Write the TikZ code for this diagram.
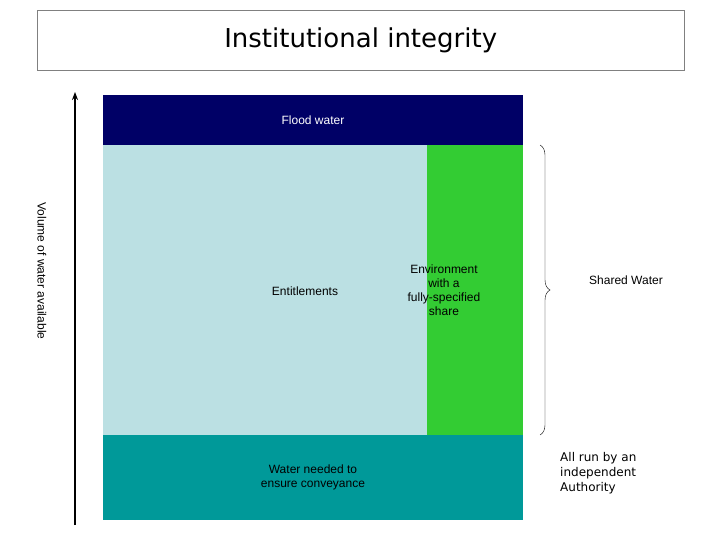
\documentclass[tikz,border=0pt]{standalone}
\usepackage{fontspec}
\setmainfont{Liberation Sans}
\newfontfamily\comic{DejaVu Sans}
\usetikzlibrary{decorations.pathreplacing,arrows.meta}
\definecolor{navy}{RGB}{0,0,102}
\definecolor{lblue}{RGB}{187,224,227}
\definecolor{grn}{RGB}{51,204,51}
\definecolor{teal2}{RGB}{0,153,153}
\tikzset{lbl/.style={font=\fontsize{12}{14}\selectfont, align=center, inner sep=0pt}}
\begin{document}
\begin{tikzpicture}[x=1pt,y=-1pt]
\useasboundingbox (0,0) rectangle (720,540);
\node[draw=gray, minimum width=647pt, minimum height=60pt, anchor=north west, inner sep=0pt,
  font=\comic\fontsize{26}{30}\selectfont] (title) at (37,10) {Institutional integrity};
\fill[navy] (103,95) rectangle (523,145);
\fill[lblue] (103,145) rectangle (427,435);
\fill[grn] (427,145) rectangle (523,435);
\fill[teal2] (103,435) rectangle (523,520);
\node[lbl, text=white] (flood) at (313,120) {Flood water};
\node[lbl] (ent) at (305,291) {Entitlements};
\node[lbl] (env) at (444,290) {Environment\\with a\\fully-specified\\share};
\node[lbl] (conv) at (313,477) {Water needed to\\ensure conveyance};
\coordinate (a1) at (75,525);
\coordinate (a2) at (75,92);
\draw[line width=1.5pt,-{Stealth[length=8pt]}] (a1) -- (a2);
\node[lbl, rotate=-90] (vol) at (42,271) {Volume of water available};
\coordinate (b1) at (540,145);
\coordinate (b2) at (540,435);
\draw[decorate, decoration={brace, amplitude=10pt}] (b1) -- (b2);
\node[lbl] (shared) at (626,280) {Shared Water};
\node[lbl, anchor=west, align=left, font=\comic\fontsize{12}{15}\selectfont] (auth) at (560,473) {All run by an\\independent\\Authority};
\end{tikzpicture}
\end{document}
